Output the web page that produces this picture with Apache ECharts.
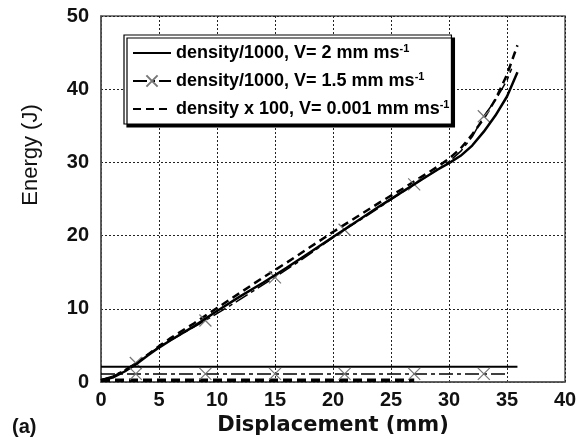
<!DOCTYPE html>
<html>
<head>
<meta charset="utf-8">
<script src="https://cdn.jsdelivr.net/npm/echarts@6/dist/echarts.min.js"></script>
<style>
  html, body { margin: 0; padding: 0; background: #fff; }
  #chart { width: 588px; height: 443px; }
</style>
</head>
<body>
<div id="chart"></div>
<script>
// legend names (superscript "-1" added by the formatter)
const names = [
  'density/1000, V= 2 mm ms',
  'density/1000, V= 1.5 mm ms',
  'density x 100, V= 0.001 mm ms'
]

// internal energy curves
const solidX = [0, 1, 2, 3, 4, 5, 6, 8, 10, 12, 14, 16, 18, 20, 22, 24, 26, 28, 29, 30, 31, 32, 33, 34, 35, 35.9]
const solidY = [0.2, 0.6, 1.4, 2.4, 3.6, 4.7, 5.7, 7.6, 9.7, 11.7, 13.6, 15.6, 17.7, 19.8, 21.9, 24.0, 26.0, 28.0, 29.0, 29.9, 30.9, 32.3, 34.2, 36.4, 39.0, 42.3]

const crossX = [0, 1, 2, 3, 5, 7, 9, 11, 13, 15, 17, 19, 21, 23, 25, 27, 29, 30, 31, 32, 33, 34, 35, 35.4]
const crossY = [0.3, 0.8, 1.6, 2.6, 4.8, 6.6, 8.4, 10.3, 12.3, 14.3, 16.4, 18.6, 20.8, 22.8, 24.9, 27.0, 29.0, 30.1, 31.5, 33.5, 36.3, 38.5, 41.2, 42.8]

const dashX = [0, 1, 2, 3, 4, 5, 6, 8, 10, 12, 14, 16, 18, 20, 22, 24, 26, 28, 29, 30, 31, 32, 33, 34, 35, 35.9]
const dashY = [0.2, 0.7, 1.5, 2.5, 3.7, 4.9, 6.0, 8.0, 10.1, 12.2, 14.3, 16.3, 18.4, 20.5, 22.5, 24.5, 26.4, 28.4, 29.4, 30.5, 31.9, 33.8, 36.0, 38.6, 42.0, 46.0]

// flat (kinetic) energy lines
const flatSolidX = [0, 35.9]
const flatSolidY = [2.1, 2.1]
const flatCrossX = [0, 3, 9, 15, 21, 27, 33, 35.1]
const flatCrossY = [1.1, 1.1, 1.1, 1.1, 1.1, 1.1, 1.1, 1.1]
const flatDashX = [0, 27]
const flatDashY = [0.25, 0.25]

// x positions carrying an X marker
const markerX = [3, 9, 15, 21, 27, 33]

const crossSymbol = 'path://M0,0L10,10M10,0L0,10'

function pairs(xs, ys) {
  return xs.map((x, i) => [x, ys[i]])
}
function markedPairs(xs, ys) {
  return xs.map((x, i) => {
    if (markerX.indexOf(x) >= 0) return [x, ys[i]]
    return { value: [x, ys[i]], symbol: 'none' }
  })
}

const chart = echarts.init(document.getElementById('chart'))

const solidStyle = { color: '#000', width: 2.5, type: 'solid' }
const crossStyle = { color: '#000', width: 1.5, type: [14, 4, 4, 4] }
const dashStyle = { color: '#000', width: 2.5, type: [8, 5] }
const crossItem = { color: 'none', borderColor: '#777', borderWidth: 1.2 }
const labelFont = { fontFamily: 'Liberation Sans', fontWeight: 'bold', fontSize: 20, color: '#111' }

const option = {
  animation: false,
  backgroundColor: '#fff',
  grid: {
    left: 101, right: 23, top: 16, bottom: 61,
    show: true, borderColor: '#555', borderWidth: 1.5
  },
  legend: {
    data: [
      { name: names[0], itemStyle: { opacity: 0 } },
      { name: names[1] },
      { name: names[2], itemStyle: { opacity: 0 } }
    ],
    orient: 'vertical',
    left: 124, top: 35,
    itemWidth: 38, itemHeight: 14, itemGap: 9,
    padding: [8, 2, 6, 8],
    backgroundColor: '#fff',
    borderColor: '#000', borderWidth: 1.2,
    shadowColor: '#000', shadowBlur: 0, shadowOffsetX: 3, shadowOffsetY: 3,
    selectedMode: false,
    formatter: name => '{t|' + name + '}{s|-1}',
    textStyle: {
      rich: {
        t: { fontFamily: 'Liberation Sans', fontWeight: 'bold', fontSize: 18, lineHeight: 20, color: '#000' },
        s: { fontFamily: 'Liberation Sans', fontWeight: 'bold', fontSize: 11, lineHeight: 10, verticalAlign: 'top', color: '#000' }
      }
    }
  },
  xAxis: {
    type: 'value', min: 0, max: 40, interval: 5,
    name: 'Displacement (mm)', nameLocation: 'middle', nameGap: 29,
    nameTextStyle: { fontFamily: 'DejaVu Sans', fontWeight: 'bold', fontSize: 21, color: '#111' },
    axisLine: { show: true, lineStyle: { color: '#555', width: 1.5 } },
    axisTick: { show: false },
    axisLabel: Object.assign({ margin: 8 }, labelFont),
    splitLine: { show: true, lineStyle: { color: '#222', width: 1, type: [2, 2] } }
  },
  yAxis: {
    type: 'value', min: 0, max: 50, interval: 10,
    axisLine: { show: true, lineStyle: { color: '#555', width: 1.5 } },
    axisTick: { show: false },
    axisLabel: Object.assign({ margin: 12 }, labelFont),
    splitLine: { show: true, lineStyle: { color: '#222', width: 1, type: [2, 2] } }
  },
  graphic: [
    { type: 'text', x: 31, y: 155, rotation: Math.PI / 2,
      style: { text: 'Energy (J)', font: '22px "Liberation Sans"', fill: '#111', align: 'center', verticalAlign: 'middle' } },
    { type: 'text', left: 12, top: 417, style: { text: '(a)', font: 'bold 20px "Liberation Sans"', fill: '#111' } }
  ],
  series: [
    { name: names[0], type: 'line', symbol: 'none', lineStyle: solidStyle, itemStyle: { color: '#000' },
      data: pairs(solidX, solidY), z: 3 },
    { name: names[1], type: 'line', symbol: crossSymbol, symbolSize: 12, showAllSymbol: true,
      lineStyle: crossStyle, itemStyle: crossItem, data: markedPairs(crossX, crossY), z: 2 },
    { name: names[2], type: 'line', symbol: 'none', lineStyle: dashStyle, itemStyle: { color: '#000' },
      data: pairs(dashX, dashY), z: 2 },
    { name: names[0], type: 'line', symbol: 'none', lineStyle: { color: '#000', width: 2 },
      data: pairs(flatSolidX, flatSolidY) },
    { name: names[1], type: 'line', symbol: crossSymbol, symbolSize: 12, showAllSymbol: true,
      lineStyle: crossStyle, itemStyle: crossItem, data: markedPairs(flatCrossX, flatCrossY) },
    { name: names[2], type: 'line', symbol: 'none', lineStyle: { color: '#000', width: 3.5, type: [9, 5] },
      data: pairs(flatDashX, flatDashY) }
  ]
}

chart.setOption(option)
</script>
</body>
</html>
